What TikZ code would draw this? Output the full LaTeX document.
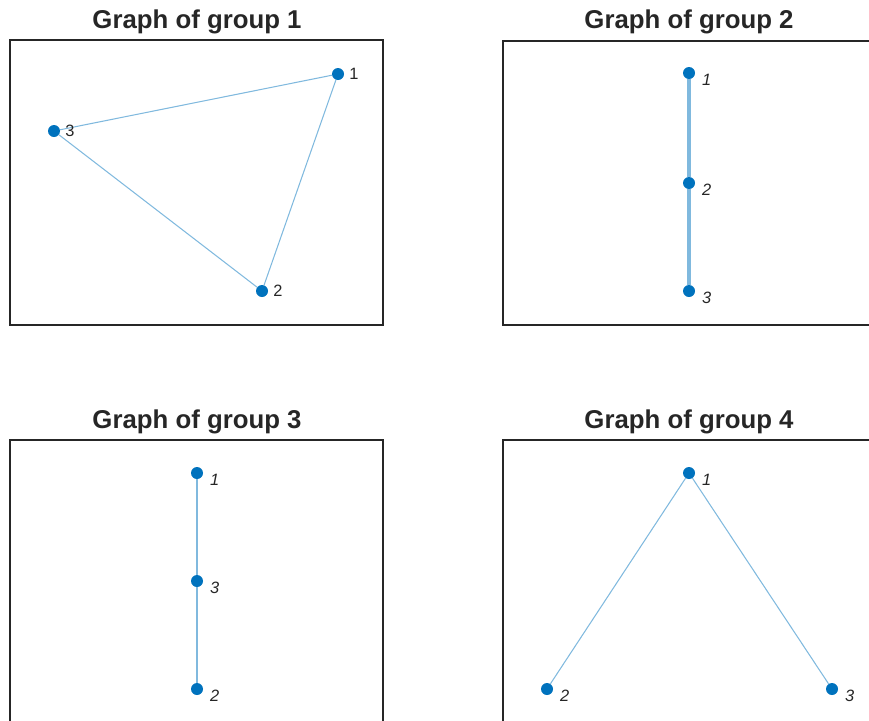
\documentclass[tikz,border=0pt]{standalone}
\usepackage{fontspec}
\setmainfont{Liberation Sans}
\usetikzlibrary{positioning}
\definecolor{nodeblue}{RGB}{0,114,189}
\definecolor{edgeblue}{RGB}{128,185,222}
\definecolor{framegray}{RGB}{38,38,38}

\tikzset{
  vtx/.style={circle, fill=nodeblue, inner sep=0pt, minimum size=0.36cm},
  link/.style={edgeblue, line width=0.9pt},
  thicklink/.style={edgeblue, line width=3pt},
  frame/.style={framegray, line width=1.1pt},
  ttl/.style={text=framegray, font=\fontsize{22}{25}\selectfont\bfseries},
  lbl/.style={inner sep=0pt, text=framegray, font=\fontsize{14}{16}\selectfont},
  ilbl/.style={lbl, font=\fontsize{14}{16}\selectfont\itshape}
}

\begin{document}
\begin{tikzpicture}[x=0.03cm, y=-0.03cm]

  \useasboundingbox (0,0) rectangle (869,720);

  % --- Group 1 ---
  \draw[frame] (10,40) rectangle (383,325);
  \node[ttl] (t1) at (197,22) {Graph of group 1};
  \node[vtx] (a1) at (338,74) {};
  \node[vtx] (a2) at (262,291) {};
  \node[vtx] (a3) at (54,131) {};
  \draw[link] (a1) -- (a2);
  \draw[link] (a2) -- (a3);
  \draw[link] (a3) -- (a1);
  \node[lbl, right=0.15cm of a1] (a1l) {1};
  \node[lbl, right=0.15cm of a2] (a2l) {2};
  \node[lbl, right=0.15cm of a3] (a3l) {3};

  % --- Group 2 ---
  \draw[frame] (503,41) rectangle (876,325);
  \node[ttl] (t2) at (689,22) {Graph of group 2};
  \node[vtx] (b1) at (689,73) {};
  \node[vtx] (b2) at (689,183) {};
  \node[vtx] (b3) at (689,291) {};
  \draw[thicklink] (b1) -- (b2);
  \draw[thicklink] (b2) -- (b3);
  \node[ilbl, right=0.2cm of b1, yshift=-0.2cm] (b1l) {1};
  \node[ilbl, right=0.2cm of b2, yshift=-0.2cm] (b2l) {2};
  \node[ilbl, right=0.2cm of b3, yshift=-0.2cm] (b3l) {3};

  % --- Group 3 ---
  \draw[frame] (10,440) rectangle (383,726);
  \node[ttl] (t3) at (197,422) {Graph of group 3};
  \node[vtx] (c1) at (197,473) {};
  \node[vtx] (c3) at (197,581) {};
  \node[vtx] (c2) at (197,689) {};
  \draw[link] (c1) -- (c3);
  \draw[link] (c3) -- (c2);
  \node[ilbl, right=0.2cm of c1, yshift=-0.2cm] (c1l) {1};
  \node[ilbl, right=0.2cm of c3, yshift=-0.2cm] (c3l) {3};
  \node[ilbl, right=0.2cm of c2, yshift=-0.2cm] (c2l) {2};

  % --- Group 4 ---
  \draw[frame] (503,440) rectangle (876,726);
  \node[ttl] (t4) at (689,422) {Graph of group 4};
  \node[vtx] (d1) at (689,473) {};
  \node[vtx] (d2) at (547,689) {};
  \node[vtx] (d3) at (832,689) {};
  \draw[link] (d1) -- (d2);
  \draw[link] (d1) -- (d3);
  \node[ilbl, right=0.2cm of d1, yshift=-0.2cm] (d1l) {1};
  \node[ilbl, right=0.2cm of d2, yshift=-0.2cm] (d2l) {2};
  \node[ilbl, right=0.2cm of d3, yshift=-0.2cm] (d3l) {3};

\end{tikzpicture}
\end{document}
